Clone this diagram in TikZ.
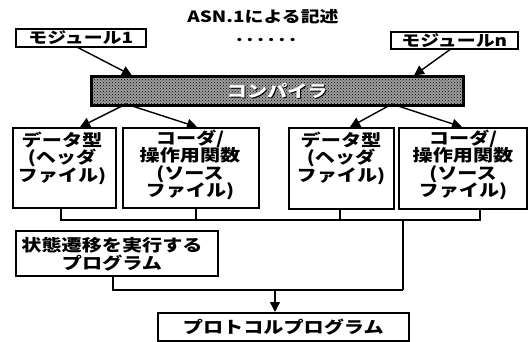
\documentclass[tikz,border=0pt]{standalone}
\usepackage{fontspec}
\setmainfont[FakeStretch=1.22]{Noto Sans CJK JP}
\usetikzlibrary{arrows.meta,patterns}
\begin{document}
\begin{tikzpicture}[x=1pt,y=-1pt,
  box/.style={draw, line width=1.6pt, inner sep=0pt, anchor=north west},
  txt/.style={align=center, inner sep=0pt, font=\fontsize{16.5}{17.5}\selectfont\bfseries},
  lbl/.style={inner sep=0pt, font=\fontsize{15.5}{16}\selectfont\bfseries},
  conn/.style={line width=1.4pt},
  arr/.style={line width=1.4pt, -{Triangle[length=10pt,width=10pt]}}]
\useasboundingbox (0,0) rectangle (530,342);
% title
\node[lbl] (title) at (263,17) {ASN.1による記述};
\node[lbl] (dots) at (266,40) {.\kern4pt.\kern4pt.\kern4pt.\kern4pt.\kern4pt.};
% modules
\node[box, minimum width=130pt, minimum height=18pt] (m1) at (15,28) {};
\node[lbl] (m1t) at (m1.center) {モジュール1};
\node[box, minimum width=127pt, minimum height=17pt] (mn) at (390,31) {};
\node[lbl] (mnt) at (mn.center) {モジュールn};
% compiler
\node[box, line width=2.6pt, minimum width=372pt, minimum height=29pt,
  preaction={fill=black!38}, pattern=crosshatch dots, pattern color=black] (comp) at (90,75) {};
\node[lbl, text=black, font=\fontsize{16.5}{17}\selectfont\bfseries] (compsh) at ([shift={(1,1)}]comp.center) {コンパイラ};
\node[lbl, text=white, font=\fontsize{16.5}{17}\selectfont\bfseries] (compt) at (comp.center) {コンパイラ};
% output boxes
\node[box, minimum width=103pt, minimum height=80pt] (b1) at (12,127) {};
\node[box, minimum width=136pt, minimum height=80pt] (b2) at (122,127) {};
\node[box, minimum width=105pt, minimum height=81pt] (b3) at (288,127) {};
\node[box, minimum width=128pt, minimum height=81pt] (b4) at (398,127) {};
\node[txt] (b1t) at (62,158) {データ型\\(ヘッダ\\ファイル)};
\node[txt] (b2t) at (190,165) {コーダ/\\操作用関数\\(ソース\\ファイル)};
\node[txt] (b3t) at (341,158) {データ型\\(ヘッダ\\ファイル)};
\node[txt] (b4t) at (463,165) {コーダ/\\操作用関数\\(ソース\\ファイル)};
% state program
\node[box, minimum width=202pt, minimum height=45pt] (st) at (15,230) {};
\node[txt] (stt) at (112,254) {状態遷移を実行する\\プログラム};
% protocol
\node[box, minimum width=251pt, minimum height=28pt] (pr) at (157,312) {};
\node[txt] (prt) at (pr.center) {プロトコルプログラム};
% arrows into compiler
\draw[arr] (m1.south west) ++(63,0) coordinate (m1s) -- (132,75.5);
\draw[arr] (mn.south west) ++(60,0) coordinate (mns) -- (414,75.5);
% arrows out of compiler
\coordinate (cl) at (126,104);
\coordinate (cr) at (392,104);
\draw[arr] (cl) -- (b1.north west -| 80,0);
\draw[arr] (cl) -- (b2.north west -| 197,0);
\draw[arr] (cr) -- (b3.north west -| 350,0);
\draw[arr] (cr) -- (b4.north west -| 462,0);
% collecting lines
\coordinate (h1) at (61,220);
\coordinate (h4) at (480,220);
\draw[conn] (b1.south -| h1) -- (h1) -- (h4) -- (b4.south -| h4);
\draw[conn] (b2.south -| 196,0) -- (196,220);
\draw[conn] (b3.south -| 340,0) -- (340,220);
\coordinate (jd) at (403,290);
\draw[conn] (403,220) -- (jd);
\draw[conn] (st.south -| 113,0) -- (113,290) -- (jd);
\draw[arr] (275,290) -- (pr.north -| 275,0);
\end{tikzpicture}
\end{document}
